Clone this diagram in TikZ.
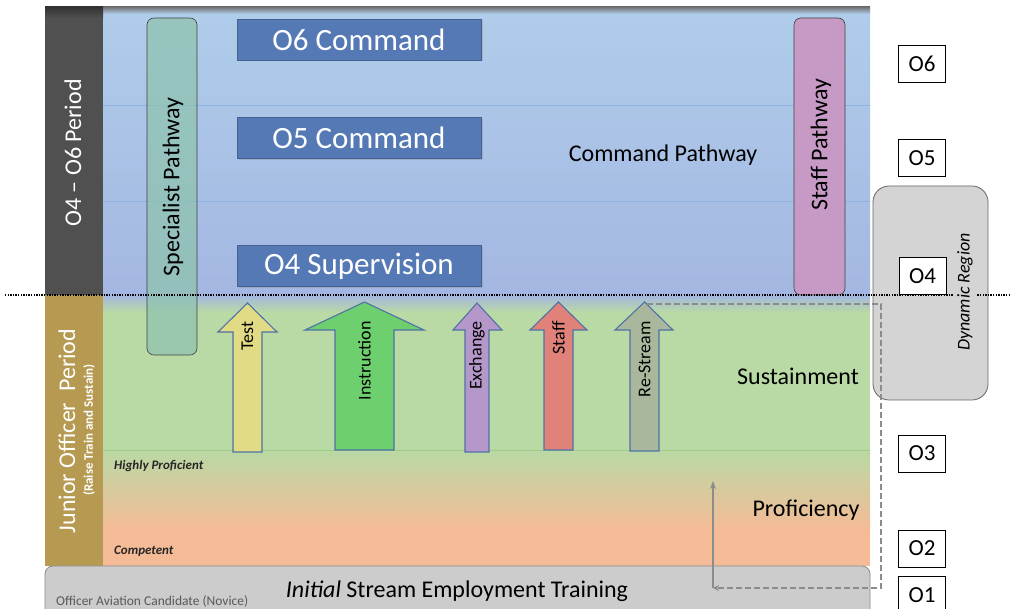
\documentclass[tikz,border=0pt]{standalone}
\usepackage{fontspec}
\setmainfont{Carlito}
\usetikzlibrary{arrows.meta,shadows}
\definecolor{blueTop}{HTML}{AFCDEA}
\definecolor{blueBot}{HTML}{A4B7E2}
\definecolor{greenA}{HTML}{B9D9A5}
\definecolor{orangeA}{HTML}{F5BB96}
\definecolor{darkbar}{HTML}{505050}
\definecolor{goldbar}{HTML}{B69A52}
\definecolor{cmdblue}{HTML}{5479B5}
\definecolor{arrline}{HTML}{4F72A8}
\definecolor{specfill}{HTML}{8FC3B0}
\definecolor{stafffill}{HTML}{C79AC6}
\definecolor{gridblue}{HTML}{8DB3E2}
\definecolor{gridgreen}{HTML}{9CCC86}
\definecolor{dynfill}{HTML}{D4D4D4}
\definecolor{trainfill}{HTML}{CCCCCC}
\definecolor{testfill}{HTML}{E1DB85}
\definecolor{instfill}{HTML}{6DCF6E}
\definecolor{exchfill}{HTML}{B597C9}
\definecolor{staffarr}{HTML}{E0817A}
\definecolor{resfill}{HTML}{A9B89C}
\begin{document}
\begin{tikzpicture}[x=1pt,y=-1pt,
  cmdbox/.style={draw=cmdblue!80!black, line width=0.4pt, fill=cmdblue, text=white, minimum width=244pt, minimum height=41pt, inner sep=0pt, font=\fontsize{31}{31}\selectfont, drop shadow={opacity=0.3,shadow xshift=1.5pt,shadow yshift=-1.5pt}},
  pathbox/.style={draw=black!75, line width=0.6pt, rounded corners=7pt},
  obox/.style={draw=black, line width=0.7pt, fill=white, minimum width=47pt, minimum height=37pt, inner sep=0pt, font=\fontsize{23}{23}\selectfont},
  blockarr/.style={draw=arrline, line width=1.1pt, line join=miter},
  arrlabel/.style={rotate=90, anchor=east, inner sep=0pt, font=\fontsize{18}{18}\selectfont},
  biglabel/.style={font=\fontsize{24}{24}\selectfont, inner sep=0pt},
  smallital/.style={font=\fontsize{13}{13}\selectfont\bfseries\itshape, text=black!85, inner sep=0pt, anchor=west},
  conn/.style={draw=black!45, line width=1.4pt}
]
\useasboundingbox (0,0) rectangle (1013,609);
% ---------- background panel ----------
\shade[top color=blueTop, bottom color=blueBot] (103,10) rectangle (870,295);
\shade[top color=blueBot, bottom color=greenA] (103,295) rectangle (870,312);
\fill[greenA] (103,312) rectangle (870,450);
\shade[top color=greenA, bottom color=orangeA] (103,450) rectangle (870,530);
\fill[orangeA] (103,530) rectangle (870,566);
\shade[top color=black!55, bottom color=blueTop] (103,7) rectangle (870,14);
\draw[gridblue, line width=0.8pt] (103,105) -- (870,105);
\draw[gridblue, line width=0.8pt] (103,201) -- (870,201);
\draw[gridgreen, line width=0.8pt] (103,450) -- (870,450);
% side bars
\shade[top color=black!80, bottom color=darkbar] (45,7) rectangle (103,18);
\fill[darkbar] (45,18) rectangle (103,295);
\fill[goldbar] (45,295) rectangle (103,566);
\node[rotate=90, text=white, font=\fontsize{24}{24}\selectfont, inner sep=0pt] (p46) at (73,153) {O4 – O6 Period};
\node[rotate=90, text=white, font=\fontsize{24}{24}\selectfont, inner sep=0pt] (pjo) at (67,431) {Junior Officer\ \ Period};
\node[rotate=90, text=white, font=\fontsize{13}{13}\selectfont\bfseries, inner sep=0pt] (pjos) at (89,430) {(Raise Train and Sustain)};
% ---------- training bar ----------
\draw[draw=black!45, fill=trainfill, rounded corners=8pt, line width=0.8pt] (45,566) rectangle (870,625);
\node[anchor=west, text=black!65, font=\fontsize{13.5}{13.5}\selectfont, inner sep=0pt] (nov) at (56,601) {Officer Aviation Candidate (Novice)};
\node[font=\fontsize{24}{24}\selectfont, inner sep=0pt] (train) at (457,591) {\textit{Initial} Stream Employment Training};
% ---------- pathways ----------
\draw[pathbox, fill=specfill, fill opacity=0.75] (147,18) rectangle (197,355);
\node[rotate=90, biglabel] (spec) at (173,187) {Specialist Pathway};
\draw[pathbox, fill=stafffill] (794,18) rectangle (845,295);
\node[rotate=90, biglabel] (staffp) at (821,145) {Staff Pathway};
% ---------- command boxes ----------
\node[cmdbox] (o6c) at (359,39.5) {O6 Command};
\node[cmdbox] (o5c) at (359,138) {O5 Command};
\node[cmdbox] (o4s) at (359,266) {O4 Supervision};
\node[biglabel] (cmdp) at (663,155) {Command Pathway};
\node[biglabel] (sust) at (798,376) {Sustainment};
\node[biglabel] (prof) at (806,510) {Proficiency};
\node[smallital] (hp) at (114,466) {Highly Proficient};
\node[smallital] (comp) at (114,551) {Competent};
% ---------- block arrows ----------
\path[blockarr, fill=testfill] (233,452) -- (233,332) -- (218,332) -- (247.5,303) -- (277,332) -- (262,332) -- (262,452) -- cycle;
\node[arrlabel] (atest) at (247.5,321) {Test};
\path[blockarr, fill=instfill] (335,450) -- (335,330) -- (305,330) -- (364.5,302) -- (424,330) -- (394,330) -- (394,450) -- cycle;
\node[arrlabel] (ainst) at (364.5,321) {Instruction};
\path[blockarr, fill=exchfill] (465,452) -- (465,330) -- (453,330) -- (477,303) -- (502,330) -- (489,330) -- (489,452) -- cycle;
\node[arrlabel] (aexch) at (477,321) {Exchange};
\path[blockarr, fill=staffarr] (544,450) -- (544,330) -- (530,330) -- (558.5,302) -- (587,330) -- (573,330) -- (573,450) -- cycle;
\node[arrlabel] (astaff) at (558.5,321) {Staff};
\path[blockarr, fill=resfill] (630,451) -- (630,330) -- (615,330) -- (644.5,302) -- (673,330) -- (659,330) -- (659,451) -- cycle;
\node[arrlabel] (ares) at (644.5,321) {Re-Stream};
% ---------- dynamic region ----------
\draw[draw=black!60, fill=dynfill, rounded corners=16pt, line width=0.8pt] (873,186) rectangle (988,400);
% dotted divider
\draw[line width=1.3pt, dash pattern=on 1.3pt off 1.3pt] (5,295) -- (1010,295);
\node[rotate=90, fill=dynfill, inner sep=3pt, font=\fontsize{18}{18}\selectfont\itshape] (dyn) at (965,292) {Dynamic Region};
% ---------- rank boxes ----------
\node[obox] (r6) at (922,64) {O6};
\node[obox] (r5) at (922,158) {O5};
\node[obox] (r4) at (922.5,276) {O4};
\node[obox] (r3) at (922,453.5) {O3};
\node[obox] (r2) at (922,548.5) {O2};
\node[obox] (r1) at (922,595) {O1};
% ---------- re-stream connector ----------
\coordinate (c0) at (647,304);
\coordinate (c1) at (881,304);
\coordinate (c2) at (881,588);
\coordinate (c3) at (713,588);
\coordinate (c4) at (713,481);
\draw[conn, dash pattern=on 6pt off 3pt, -{Stealth[length=6pt,width=6pt]}] (c0) -- (c1) -- (c2) -- (c3);
\draw[conn, -{Stealth[length=8pt,width=6pt]}] (c3) -- (c4);
\end{tikzpicture}
\end{document}
